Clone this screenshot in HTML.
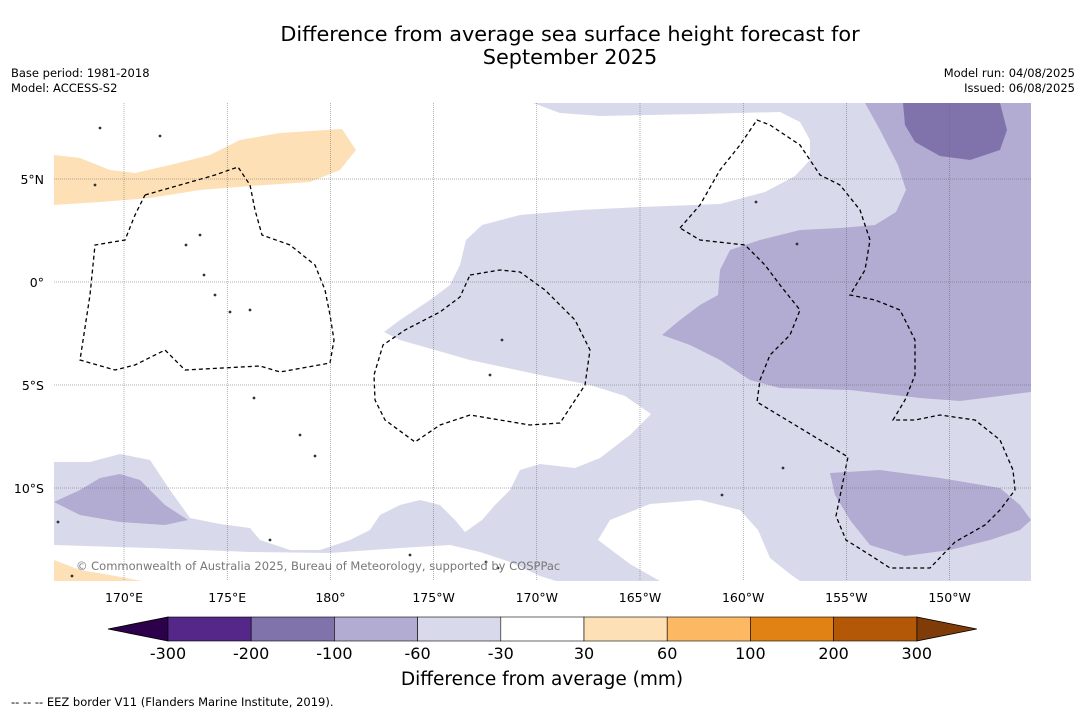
<!DOCTYPE html>
<html><head><meta charset="utf-8"><style>
body{margin:0;background:#fff;}
svg{display:block;font-family:"DejaVu Sans","Liberation Sans",sans-serif;}
</style></head><body>
<svg id="chart" width="1085" height="713" viewBox="0 0 1085 713">
<rect width="1085" height="713" fill="#fff"/>
<text x="570" y="41" font-size="20.8" text-anchor="middle">Difference from average sea surface height forecast for</text>
<text x="570" y="64" font-size="20.8" text-anchor="middle">September 2025</text>
<text x="11" y="77" font-size="11.5">Base period: 1981-2018</text>
<text x="11" y="92" font-size="11.5">Model: ACCESS-S2</text>
<text x="1075" y="77" font-size="11.5" text-anchor="end">Model run: 04/08/2025</text>
<text x="1075" y="92" font-size="11.5" text-anchor="end">Issued: 06/08/2025</text>
<defs><clipPath id="mapclip"><rect x="54" y="103" width="977" height="478"/></clipPath></defs>
<g id="map" clip-path="url(#mapclip)"></g>
<g id="grid"></g>
<g id="ticks"></g>
<text x="76" y="570" font-size="11.5" fill="#777">© Commonwealth of Australia 2025, Bureau of Meteorology, supported by COSPPac</text>
<g id="cbar"></g>
<text x="542" y="685" font-size="18.5" text-anchor="middle">Difference from average (mm)</text>
<text x="11" y="706" font-size="11.5">--  --  -- EEZ border V11 (Flanders Marine Institute, 2019).</text>
</svg>
<script>
const lonTicks=[170,175,180,185,190,195,200,205,210];
const lonLabels=["170°E","175°E","180°","175°W","170°W","165°W","160°W","155°W","150°W"];
const latTicks=[5,0,-5,-10];
const latLabels=["5°N","0°","5°S","10°S"];
const cbarLevels=["-300","-200","-100","-60","-30","30","60","100","200","300"];
const cbarColors=["#542788","#8073ac","#b2abd2","#d8daeb","#ffffff","#fee0b6","#fdb863","#e08214","#b35806"];
const extColors=["#2d004b","#7f3b08"];
const NS="http://www.w3.org/2000/svg";
const X=lon=>124+(lon-170)*20.64;
const Y=lat=>282-lat*20.6;
function mk(tag,attrs,parent){const e=document.createElementNS(NS,tag);for(const k in attrs)e.setAttribute(k,attrs[k]);parent.appendChild(e);return e;}
const map=document.getElementById('map');
const pts=a=>a.map(p=>p.join(',')).join(' ');
const lavender=[[54,103],[1031,103],[1031,581],[54,581]];
const whiteMain=[[54,103],[533,103],[560,113],[600,116],[700,114],[780,112],[800,122],[810,140],[810,160],[795,176],[765,192],[720,204],[640,207],[580,210],[520,215],[482,225],[466,240],[460,265],[450,285],[430,300],[400,320],[384,332],[400,340],[470,360],[540,375],[590,385],[625,396],[651,414],[630,435],[600,458],[575,468],[540,464],[520,470],[510,490],[495,505],[482,520],[465,532],[455,520],[440,505],[420,500],[400,505],[380,515],[370,530],[350,540],[320,550],[290,550],[260,540],[250,528],[220,524],[190,518],[170,490],[150,460],[120,454],[90,462],[54,462]];
const whiteBottom=[[54,545],[150,548],[250,552],[330,553],[400,548],[450,545],[480,552],[510,562],[540,576],[556,581],[54,581]];
const whiteRight=[[598,540],[610,520],[650,504],[700,500],[740,510],[758,530],[770,558],[790,574],[800,581],[660,581],[630,564]];
const medRight=[[865,103],[880,130],[898,165],[906,190],[896,212],[875,225],[840,228],[800,230],[760,240],[730,250],[720,270],[718,295],[700,305],[680,320],[662,335],[690,345],[720,360],[750,380],[780,388],[850,390],[920,398],[960,401],[1000,396],[1031,392],[1031,103]];
const medBR=[[830,473],[880,470],[940,478],[1000,488],[1020,505],[1031,520],[1020,530],[990,540],[950,550],[905,556],[870,545],[850,520],[835,495]];
const medLeft=[[54,502],[80,490],[100,478],[120,474],[140,480],[165,505],[188,520],[165,525],[120,522],[80,515]];
const dark=[[903,103],[905,125],[915,142],[940,156],[970,160],[1000,150],[1007,130],[1000,103]];
const orangeTop=[[54,155],[80,158],[110,170],[135,173],[170,165],[210,155],[240,140],[280,133],[342,129],[356,150],[340,170],[310,182],[250,186],[200,190],[150,198],[100,202],[54,205]];
const orangeBot=[[54,560],[80,570],[110,575],[142,581],[54,581]];
const regions=[[lavender,"#d8daeb","lavender-region"],[whiteMain,"#ffffff","neutral-region-north"],[whiteBottom,"#ffffff","neutral-region-south"],[whiteRight,"#ffffff","neutral-region-southeast"],[medRight,"#b2abd2","moderate-low-region-east"],[medBR,"#b2abd2","moderate-low-region-southeast"],[medLeft,"#b2abd2","moderate-low-region-west"],[dark,"#8073ac","strong-low-region"],[orangeTop,"#fee0b6","high-region-northwest"],[orangeBot,"#fee0b6","high-region-southwest"]];
regions.forEach(r=>{const p=mk('polygon',{points:pts(r[0]),fill:r[1]},map);

});
const eez1=[[145,195],[180,185],[215,175],[238,167],[250,185],[255,210],[262,235],[290,245],[315,265],[325,290],[330,315],[334,340],[330,363],[280,372],[260,366],[185,370],[165,350],[135,365],[115,370],[80,360],[90,295],[95,245],[125,240],[135,215],[145,195]];
const eez2=[[470,275],[500,270],[520,272],[545,290],[575,320],[590,350],[585,385],[560,423],[530,425],[470,415],[440,425],[415,442],[385,420],[375,400],[374,375],[383,345],[405,330],[440,312],[460,297],[470,275]];
const eez3=[[680,228],[700,205],[720,170],[740,145],[757,120],[770,125],[800,145],[820,175],[840,185],[860,210],[870,240],[865,270],[850,295],[875,300],[900,310],[915,340],[915,375],[905,400],[893,420],[915,420],[940,415],[975,420],[1000,440],[1013,470],[1015,490],[1000,510],[985,525],[955,542],[930,568],[890,568],[870,555],[846,540],[836,516],[848,457],[757,402],[760,380],[770,355],[790,335],[800,310],[780,285],[765,265],[745,245],[700,240],[680,228]];
[eez1,eez2,eez3].forEach((e,i)=>{const l=mk('polyline',{points:pts(e),fill:'none',stroke:'#000','stroke-width':1.3,'stroke-dasharray':'4,3'},map);

});
const islands=[[160,136],[186,245],[204,275],[230,312],[502,340],[490,375],[756,202],[797,244],[783,468],[722,495],[486,562],[498,568],[58,522],[72,576],[410,555],[270,540],[100,128],[95,185],[200,235],[215,295],[250,310],[300,435],[315,456],[254,398]];
islands.forEach(p=>{const c=mk('circle',{cx:p[0],cy:p[1],r:1.4,fill:'#333'},map);

});
const grid=document.getElementById('grid'),ticks=document.getElementById('ticks');
lonTicks.forEach((lon,i)=>{const l=mk('line',{x1:X(lon),x2:X(lon),y1:103,y2:581,stroke:'#666','stroke-width':0.5,'stroke-dasharray':'1,1'},grid);


const t=mk('text',{x:X(lon),y:602,'font-size':12.5,'text-anchor':'middle'},ticks);t.textContent=lonLabels[i];

});
latTicks.forEach((lat,i)=>{const l=mk('line',{x1:54,x2:1031,y1:Y(lat),y2:Y(lat),stroke:'#666','stroke-width':0.5,'stroke-dasharray':'1,1'},grid);


const t=mk('text',{x:44,y:Y(lat)+5,'font-size':12.5,'text-anchor':'end'},ticks);t.textContent=latLabels[i];

});
const cb=document.getElementById('cbar');
const cx0=168,cw=83.2,cy=617,ch=24;
const lt=mk('polygon',{points:`108,${cy+ch/2} ${cx0},${cy} ${cx0},${cy+ch}`,fill:extColors[0],stroke:'#000','stroke-width':0.8},cb);


const xe=cx0+cw*cbarColors.length;
const rt=mk('polygon',{points:`${xe+60},${cy+ch/2} ${xe},${cy} ${xe},${cy+ch}`,fill:extColors[1],stroke:'#000','stroke-width':0.8},cb);


cbarColors.forEach((c,i)=>{const r=mk('rect',{x:cx0+i*cw,y:cy,width:cw,height:ch,fill:c,stroke:'#000','stroke-width':0.6},cb);

});
cbarLevels.forEach((v,i)=>{const t=mk('text',{x:cx0+i*cw,y:659,'font-size':16,'text-anchor':'middle'},cb);t.textContent=v;

});
</script>
</body></html>
